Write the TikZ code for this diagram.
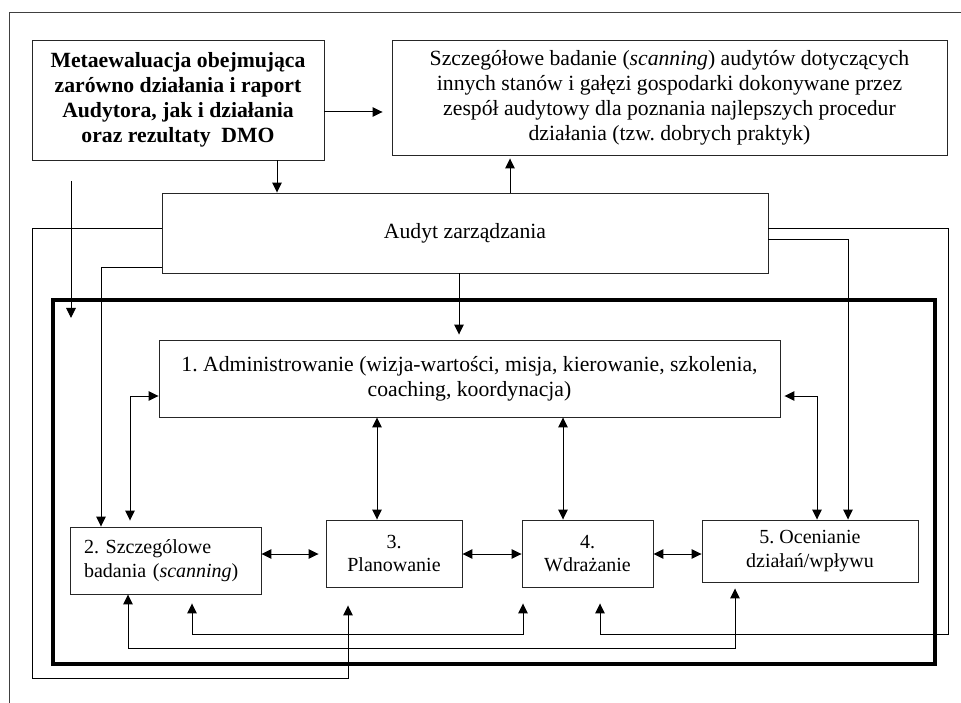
\documentclass[tikz,border=0pt]{standalone}
\usepackage{fontspec}
\setmainfont{Liberation Serif}
\usetikzlibrary{arrows.meta}
\frenchspacing
\begin{document}
\begin{tikzpicture}[x=1pt,y=-1pt,
  box/.style={draw=black!85, line width=0.9pt, inner sep=0pt, align=center,
    font=\fontsize{21.7pt}{25pt}\selectfont},
  metabox/.style={box, font=\fontsize{21.7pt}{25pt}\selectfont\bfseries},
  smallbox/.style={box, font=\fontsize{20pt}{23.5pt}\selectfont},
  wire/.style={line width=1pt},
  arr/.style={wire, -{Triangle[length=10pt,width=9.5pt]}},
  dblarr/.style={wire, {Triangle[length=10pt,width=9.5pt]}-{Triangle[length=10pt,width=9.5pt]}},
]
\useasboundingbox (0,0) rectangle (961,703);

% page frame (top and left edges)
\draw[line width=1pt, black!75] (9,703) -- (9,13) -- (961,13);

% upper boxes
\node[metabox, minimum width=292pt, minimum height=120pt] (meta) at (178,100)
  {Metaewaluacja obejmująca\\zarówno działania i raport\\Audytora, jak i działania\\oraz rezultaty\ \ DMO};
\node[box, minimum width=555pt, minimum height=115pt] (scan) at (669.5,97.5)
  {Szczegółowe badanie (\textit{scanning}) audytów dotyczących\\innych stanów i gałęzi gospodarki dokonywane przez\\zespół audytowy dla poznania najlepszych procedur\\działania (tzw. dobrych praktyk)};
\node[box, minimum width=606pt, minimum height=80pt] (audit) at (465,233) {Audyt zarządzania};

% heavy frame around the management cycle
\node[draw, line width=4pt, inner sep=0pt, minimum width=882pt, minimum height=363.5pt] (core) at (494,481.75) {};

% cycle boxes
\node[box, minimum width=621pt, minimum height=77pt] (admin) at (469.5,378.5)
  {1. Administrowanie (wizja-wartości, misja, kierowanie, szkolenia,\\coaching, koordynacja)};
\node[smallbox, minimum width=191pt, minimum height=67pt, text width=163pt, inner xsep=14pt, align=left] (szcz) at (165.5,560.5)
  {2. Szczególowe\\badania (\textit{scanning})};
\node[smallbox, minimum width=136pt, minimum height=67pt] (plan) at (394,553.5) {3.\\Planowanie};
\node[smallbox, minimum width=131pt, minimum height=67pt] (wdr) at (587.5,553.5) {4.\\Wdrażanie};
\node[smallbox, minimum width=216pt, minimum height=62pt] (ocen) at (810,551) {5. Ocenianie\\działań/wpływu};

% connectors among the upper boxes
\draw[arr, shorten >=9pt] (meta.east |- 0,112) -- (scan.west |- 0,112);
\draw[arr] (meta.south -| 277,0) -- (audit.north -| 277,0);
\draw[arr, shorten >=3pt] (audit.north -| 510,0) -- (scan.south -| 510,0);
\coordinate (dropTop) at (71,181);
\coordinate (dropEnd) at (71,318);
\draw[arr] (dropTop) -- (dropEnd);

% feedback lines leaving the audit box
\draw[arr, shorten >=18pt] (audit.west |- 0,229) -| (32,678) -| (plan.south -| 348,0);
\draw[arr] (audit.west |- 0,268) -| (szcz.north -| 101,0);
\draw[arr, shorten >=5pt] (audit.south -| 459,0) -- (admin.north -| 459,0);
\draw[arr, shorten >=16pt] (audit.east |- 0,229) -| (948,634) -| (wdr.south -| 600,0);
\draw[arr] (audit.east |- 0,240) -| (ocen.north -| 848,0);

% links inside the cycle
\draw[dblarr, shorten >=6pt] (admin.west |- 0,396) -| (szcz.north -| 130,0);
\draw[dblarr, shorten <=4pt] (admin.east |- 0,396) -| (ocen.north -| 817,0);
\draw[dblarr] (admin.south -| 377,0) -- (plan.north -| 377,0);
\draw[dblarr] (admin.south -| 563,0) -- (wdr.north -| 563,0);
\draw[dblarr, shorten >=7pt] (szcz.east |- 0,554) -- (plan.west |- 0,554);
\draw[dblarr] (plan.east |- 0,554) -- (wdr.west |- 0,554);
\draw[dblarr] (wdr.east |- 0,554) -- (ocen.west |- 0,554);
\draw[dblarr, shorten >=6pt] (szcz.south -| 128,0) -- (128,648) -| (ocen.south -| 735,0);
\draw[dblarr, shorten <=9pt, shorten >=16pt] (szcz.south -| 192,0) -- (192,634) -| (wdr.south -| 523,0);
\end{tikzpicture}
\end{document}
